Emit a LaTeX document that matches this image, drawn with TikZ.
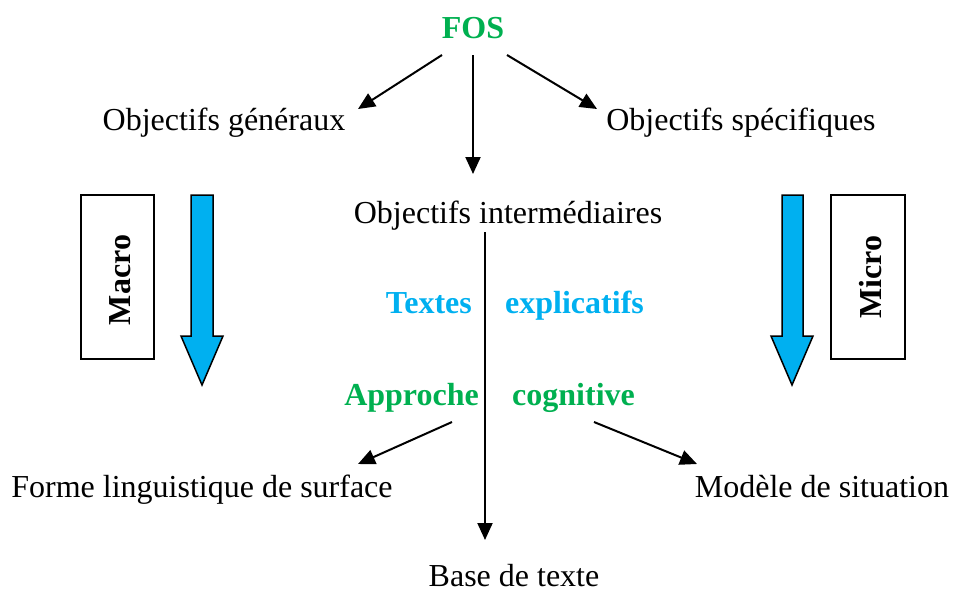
\documentclass[tikz,border=0pt]{standalone}
\usepackage{fontspec}
\setmainfont{Liberation Serif}
\usetikzlibrary{arrows.meta}
\definecolor{fosgreen}{HTML}{00B050}
\definecolor{lblue}{HTML}{00B0F0}
\begin{document}
\begin{tikzpicture}[x=1pt,y=-1pt,
  every node/.style={font=\fontsize{32}{38}\selectfont, inner sep=0pt},
  lbl/.style={anchor=base},
  bgreen/.style={anchor=base, text=fosgreen, font=\fontsize{32}{38}\selectfont\bfseries},
  bblue/.style={anchor=base, text=lblue, font=\fontsize{32}{38}\selectfont\bfseries},
  arr/.style={line width=2pt, -{Triangle[length=17pt,width=15pt]}},
  plain/.style={line width=2pt},
  sidebox/.style={draw, line width=1.5pt},
  bigarrow/.style={draw, line width=1.5pt, fill=lblue, line join=miter},
  vlabel/.style={rotate=90, font=\fontsize{32}{38}\selectfont\bfseries}
]
\useasboundingbox (0,0) rectangle (955,592);

% texts
\node[bgreen] (fos) at (473,38) {FOS};
\node[lbl] (og) at (224,130) {Objectifs généraux};
\node[lbl] (os) at (741,130) {Objectifs spécifiques};
\node[lbl] (oi) at (508,223) {Objectifs intermédiaires};
\node[bblue,anchor=base east] (tx) at (472,313) {Textes};
\node[bblue,anchor=base west] (ex) at (505,313) {explicatifs};
\node[bgreen,anchor=base east] (ap) at (479,405) {Approche};
\node[bgreen,anchor=base west] (cg) at (512,405) {cognitive};
\node[lbl] (fl) at (202,497) {Forme linguistique de surface};
\node[lbl] (ms) at (822,497) {Modèle de situation};
\node[lbl] (bt) at (514,586) {Base de texte};

% connector end points
\coordinate (s1) at (442,55);
\coordinate (e1) at (358,109);
\coordinate (s2) at (473,55);
\coordinate (e2) at (473,174);
\coordinate (s3) at (507,55);
\coordinate (e3) at (597,109);
\coordinate (s4) at (485,232);
\coordinate (e4) at (485,540);
\coordinate (s5) at (452,422);
\coordinate (e5) at (358,464);
\coordinate (s6) at (594,422);
\coordinate (e6) at (697,464);

\draw[arr] (s1) -- (e1);
\draw[arr] (s2) -- (e2);
\draw[arr] (s3) -- (e3);
\draw[arr] (s4) -- (e4);
\draw[arr] (s5) -- (e5);
\draw[arr] (s6) -- (e6);

% side boxes
\node[sidebox, minimum width=73pt, minimum height=164pt] (macro) at (117.5,277) {};
\node[vlabel] (macrot) at (120,280) {Macro};
\node[sidebox, minimum width=74pt, minimum height=164pt] (micro) at (868,277) {};
\node[vlabel] (microt) at (871,277) {Micro};

% big blue arrows
\draw[bigarrow] (191,195) -- (213,195) -- (213,336) -- (223,336) -- (202,385) -- (181,336) -- (191,336) -- cycle;
\draw[bigarrow] (782,195) -- (803,195) -- (803,336) -- (813,336) -- (792,385) -- (771,336) -- (782,336) -- cycle;
\end{tikzpicture}
\end{document}
